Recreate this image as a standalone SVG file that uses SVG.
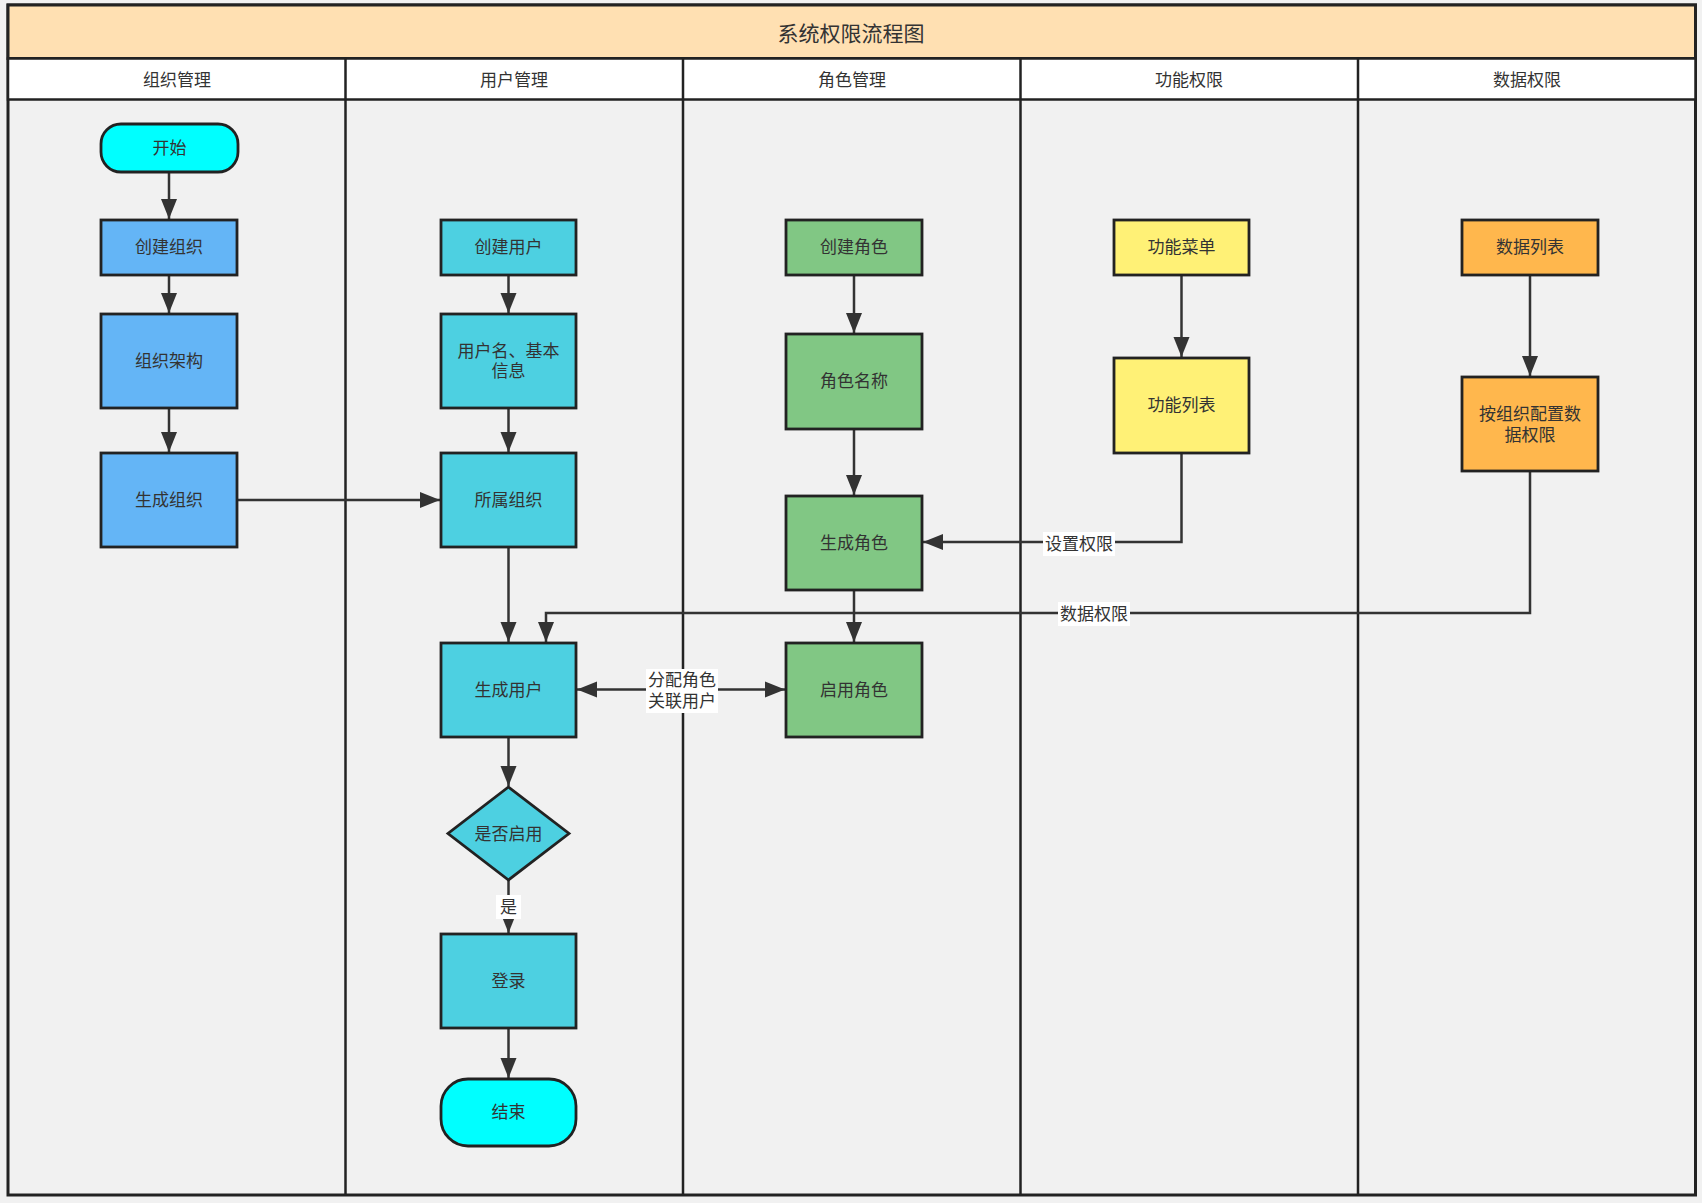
<svg xmlns="http://www.w3.org/2000/svg" width="1702" height="1203" viewBox="0 0 1702 1203">
<defs>
<style>
text{font-family:"Liberation Sans","Noto Sans CJK SC",sans-serif;fill:#333;text-anchor:middle;dominant-baseline:central}
.t{font-size:21px}
.h{font-size:17px}
.n{font-size:17px}
.lb{font-size:17px}
.nd{stroke:#222;stroke-width:2.8}
.c{fill:none;stroke:#333;stroke-width:2.5}
.lane{stroke:#222;stroke-width:2.5}
.org{fill:#64B5F6}
.usr{fill:#4DD0E1}
.role{fill:#81C784}
.func{fill:#FFF176}
.data{fill:#FFB74D}
.term{fill:#00FFFF}
</style>
<marker id="a" viewBox="0 0 10 10" refX="10" refY="5" markerWidth="7" markerHeight="7" markerUnits="userSpaceOnUse" orient="auto-start-reverse">
<path d="M0,0 L10,5 L0,10 z" fill="#333"/>
</marker>
<marker id="ar" viewBox="0 0 10 10" refX="10" refY="5" markerWidth="8" markerHeight="8" orient="auto-start-reverse">
<path d="M0,1 L10,5 L0,9 z" fill="#333"/>
</marker>
</defs>
<rect width="1702" height="1203" fill="#f1f1f1"/>
<g id="swimlanes">
<rect x="8" y="5" width="1687.5" height="1190" fill="#f1f1f1" stroke="#222" stroke-width="3"/>
<rect x="8" y="5" width="1687.5" height="53.5" fill="#FFE0B2" stroke="#222" stroke-width="3"/>
<rect x="8" y="58.5" width="1687.5" height="41" fill="#ffffff" stroke="#222" stroke-width="2.5"/>
<line class="lane" x1="345.5" y1="58.5" x2="345.5" y2="1195"/>
<line class="lane" x1="683" y1="58.5" x2="683" y2="1195"/>
<line class="lane" x1="1020.5" y1="58.5" x2="1020.5" y2="1195"/>
<line class="lane" x1="1358" y1="58.5" x2="1358" y2="1195"/>
<text class="t" x="851" y="33">系统权限流程图</text>
<text class="h" x="177" y="80">组织管理</text>
<text class="h" x="514" y="80">用户管理</text>
<text class="h" x="852" y="80">角色管理</text>
<text class="h" x="1189" y="80">功能权限</text>
<text class="h" x="1527" y="80">数据权限</text>
</g>
<g id="connectors">
<path class="c" d="M169,172 V219" marker-end="url(#ar)"/>
<path class="c" d="M169,275 V313" marker-end="url(#ar)"/>
<path class="c" d="M169,408 V452" marker-end="url(#ar)"/>
<path class="c" d="M237,500 H440" marker-end="url(#ar)"/>
<path class="c" d="M508.5,275 V313" marker-end="url(#ar)"/>
<path class="c" d="M508.5,408 V452" marker-end="url(#ar)"/>
<path class="c" d="M508.5,547 V642" marker-end="url(#ar)"/>
<path class="c" d="M508.5,737 V786" marker-end="url(#ar)"/>
<path class="c" d="M508.5,880 V933" marker-end="url(#ar)"/>
<path class="c" d="M508.5,1028 V1078" marker-end="url(#ar)"/>
<path class="c" d="M854,275 V333" marker-end="url(#ar)"/>
<path class="c" d="M854,429 V495" marker-end="url(#ar)"/>
<path class="c" d="M854,590 V642" marker-end="url(#ar)"/>
<path class="c" d="M1181.5,275 V357" marker-end="url(#ar)"/>
<path class="c" d="M1181.5,453 V542 H923" marker-end="url(#ar)"/>
<path class="c" d="M1530,275 V376" marker-end="url(#ar)"/>
<path class="c" d="M1530,471 V613 H546 V642" marker-end="url(#ar)"/>
<path class="c" d="M577,689.5 H785" marker-start="url(#ar)" marker-end="url(#ar)"/>
<rect x="496" y="895" width="25" height="24" fill="#ffffff"/>
<text class="lb" x="508.5" y="907">是</text>
<rect x="1043" y="532" width="72" height="24" fill="#ffffff"/>
<text class="lb" x="1079" y="544">设置权限</text>
<rect x="1058" y="602" width="72" height="24" fill="#ffffff"/>
<text class="lb" x="1094" y="614">数据权限</text>
<rect x="646" y="669" width="72" height="44" fill="#ffffff"/>
<text class="lb" x="682" y="680">分配角色</text>
<text class="lb" x="682" y="701">关联用户</text>
</g>
<g id="n-start"><rect class="nd term" x="101" y="124" width="137" height="48" rx="20"/><text class="n" x="169.5" y="148">开始</text></g>
<g id="n-create-org"><rect class="nd org" x="101" y="220" width="136" height="55"/><text class="n" x="169" y="247.5">创建组织</text></g>
<g id="n-org-arch"><rect class="nd org" x="101" y="314" width="136" height="94"/><text class="n" x="169" y="361">组织架构</text></g>
<g id="n-gen-org"><rect class="nd org" x="101" y="453" width="136" height="94"/><text class="n" x="169" y="500">生成组织</text></g>
<g id="n-create-user"><rect class="nd usr" x="441" y="220" width="135" height="55"/><text class="n" x="508.5" y="247.5">创建用户</text></g>
<g id="n-user-info"><rect class="nd usr" x="441" y="314" width="135" height="94"/><text class="n" x="508.5" y="351">用户名、基本</text><text class="n" x="508.5" y="371">信息</text></g>
<g id="n-user-org"><rect class="nd usr" x="441" y="453" width="135" height="94"/><text class="n" x="508.5" y="500">所属组织</text></g>
<g id="n-gen-user"><rect class="nd usr" x="441" y="643" width="135" height="94"/><text class="n" x="508.5" y="690">生成用户</text></g>
<g id="n-enabled"><polygon class="nd usr" points="508.5,787 569,833.5 508.5,880 448,833.5"/><text class="n" x="508.5" y="834">是否启用</text></g>
<g id="n-login"><rect class="nd usr" x="441" y="934" width="135" height="94"/><text class="n" x="508.5" y="981">登录</text></g>
<g id="n-end"><rect class="nd term" x="441" y="1079" width="135" height="67" rx="27"/><text class="n" x="508.5" y="1112.5">结束</text></g>
<g id="n-create-role"><rect class="nd role" x="786" y="220" width="136" height="55"/><text class="n" x="854" y="247.5">创建角色</text></g>
<g id="n-role-name"><rect class="nd role" x="786" y="334" width="136" height="95"/><text class="n" x="854" y="381.5">角色名称</text></g>
<g id="n-gen-role"><rect class="nd role" x="786" y="496" width="136" height="94"/><text class="n" x="854" y="543">生成角色</text></g>
<g id="n-enable-role"><rect class="nd role" x="786" y="643" width="136" height="94"/><text class="n" x="854" y="690">启用角色</text></g>
<g id="n-func-menu"><rect class="nd func" x="1114" y="220" width="135" height="55"/><text class="n" x="1181.5" y="247.5">功能菜单</text></g>
<g id="n-func-list"><rect class="nd func" x="1114" y="358" width="135" height="95"/><text class="n" x="1181.5" y="405.5">功能列表</text></g>
<g id="n-data-list"><rect class="nd data" x="1462" y="220" width="136" height="55"/><text class="n" x="1530" y="247.5">数据列表</text></g>
<g id="n-data-perm"><rect class="nd data" x="1462" y="377" width="136" height="94"/><text class="n" x="1530" y="414">按组织配置数</text><text class="n" x="1530" y="435">据权限</text></g>
</svg>
